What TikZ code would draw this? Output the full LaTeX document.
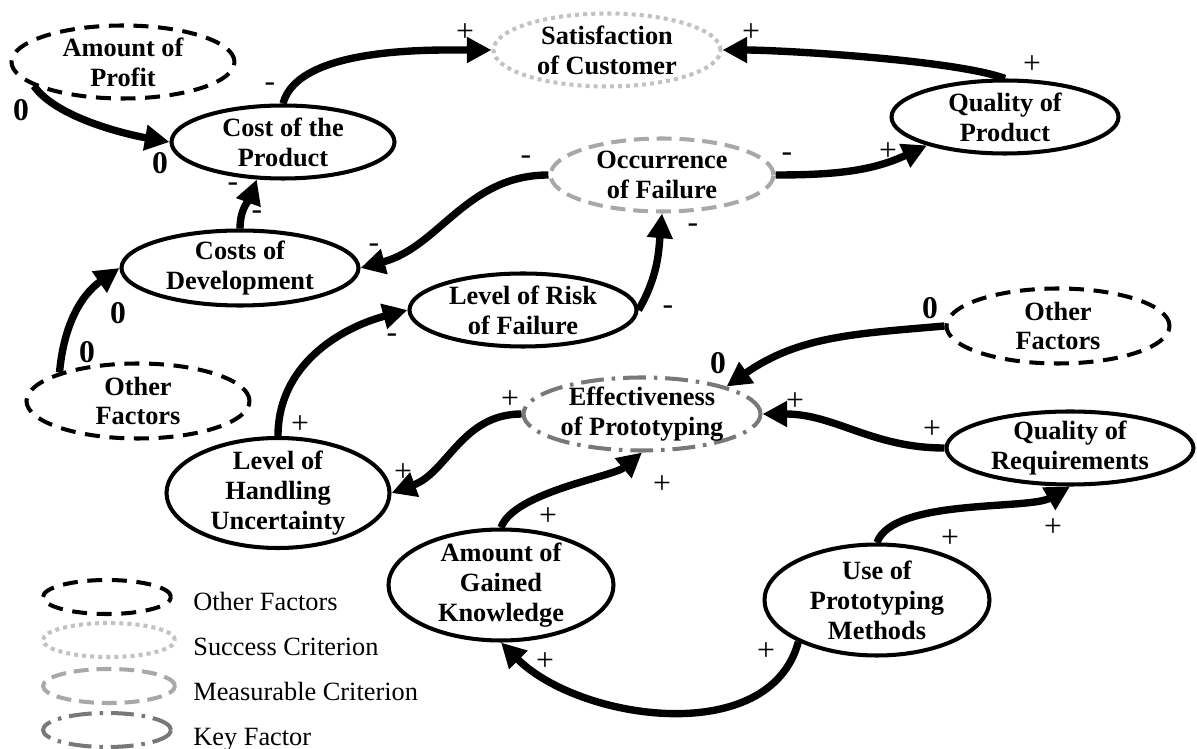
\documentclass[tikz,border=0pt]{standalone}
\usepackage{fontspec}
\setmainfont{Liberation Serif}
\usetikzlibrary{shapes.geometric,arrows.meta}
\definecolor{succgray}{gray}{0.76}
\definecolor{measgray}{gray}{0.66}
\definecolor{keygray}{gray}{0.47}
\begin{document}
\begin{tikzpicture}[x=0.02cm,y=-0.02cm,
	every node/.style={font=\fontsize{15}{17}\selectfont},
	wh/.style 2 args={minimum width=#1*0.02cm,minimum height=#2*0.02cm},
	ell/.style={ellipse,line width=2.3pt,inner sep=-2pt,align=center,font=\fontsize{15}{17}\selectfont\bfseries},
	factor/.style={ell,draw},
	other/.style={ell,draw,dash pattern=on 8.5pt off 5.5pt},
	success/.style={ell,draw=succgray,dash pattern=on 2.3pt off 2.3pt},
	measurable/.style={ell,draw=measgray,dash pattern=on 8.5pt off 4.5pt},
	keyfac/.style={ell,draw=keygray,dash pattern=on 13pt off 4.5pt on 2pt off 4.5pt},
	link/.style={line width=4.2pt,-{Triangle[length=14pt,width=14pt]}},
	sgn/.style={inner sep=0pt,font=\fontsize{18}{20}\selectfont},
	zero/.style={inner sep=0pt,font=\fontsize{18}{20}\selectfont\bfseries}]
	\useasboundingbox (0,0) rectangle (1197,749);

	\node[other,wh={223}{73}] (profit) at (123,62) {Amount of\\Profit};
	\node[factor,wh={223}{73}] (cop) at (283,142) {Cost of the\\Product};
	\node[success,wh={227}{73}] (sat) at (607,50) {Satisfaction\\of Customer};
	\node[factor,wh={227}{73}] (qop) at (1005,117) {Quality of\\Product};
	\node[measurable,wh={223}{73}] (occ) at (662,175) {Occurrence\\of Failure};
	\node[factor,wh={237}{75}] (cod) at (240,268) {Costs of\\Development};
	\node[factor,wh={227}{73}] (lrf) at (523,310) {Level of Risk\\of Failure};
	\node[other,wh={223}{75}] (of1) at (138,401) {Other\\Factors};
	\node[other,wh={223}{75}] (of2) at (1058,326) {Other\\Factors};
	\node[keyfac,wh={237}{73}] (eff) at (642,414) {Effectiveness\\of Prototyping};
	\node[factor,wh={247}{73}] (qor) at (1070,448) {Quality of\\Requirements};
	\node[factor,wh={223}{110}] (lhu) at (278,493) {Level of\\Handling\\Uncertainty};
	\node[factor,wh={225}{111}] (agk) at (501,585) {Amount of\\Gained\\Knowledge};
	\node[factor,wh={225}{111}] (upm) at (877,600) {Use of\\Prototyping\\Methods};

	\draw[link] (profit.195) to[out=-55,in=170,looseness=0.7] (cop.west);
	\draw[link] (cop.north) to[out=75,in=180,looseness=0.7] (sat.west);
	\draw[link] (qop.north) to[out=160,in=0,looseness=0.5] (sat.east);
	\draw[link] (occ.east) to[out=0,in=205] (qop.200);
	\draw[link] (occ.west) to[out=180,in=15] (cod.east);
	\draw[link] (cod.north) to[out=90,in=250] (cop.235);
	\draw[link] (of1.160) to[out=85,in=215] (cod.west);
	\draw[link] (lhu.north) to[out=90,in=195] (lrf.west);
	\draw[link] (lrf.east) to[out=60,in=265] (occ.south);
	\draw[link] (of2.west) to[out=185,in=35] (eff.18);
	\draw[link] (qor.west) to[out=180,in=0] (eff.east);
	\draw[link] (eff.west) to[out=180,in=20] (lhu.east);
	\draw[link] (agk.north) to[out=70,in=220,looseness=0.6] (eff.south);
	\draw[link] (upm.north) to[out=70,in=210,looseness=0.6] (qor.south);
	\draw[link] (upm.208) to[out=255,in=315,looseness=0.95] (agk.south);

	\foreach \px/\py/\s [count=\i] in {270/87/-,465/33/+,751/33/+,1032/65/+,787/157/-,888/152/+,
		526/160/-,374/248/-,233/187/-,257/215/-,392/338/-,300/425/+,668/310/-,693/228/-,
		795/402/+,932/430/+,510/400/+,403/473/+,662/485/+,548/517/+,545/662/+,766/652/+,
		950/539/+,1053/528/+}
		\node[sgn] (sg\i) at (\px,\py) {\s};
	\foreach \px/\py [count=\i] in {21/110,160/163,118/313,87/352,718/363,930/308}
		\node[zero] (z\i) at (\px,\py) {0};

	\node[other,wh={128}{34}] (lg1) at (107,597) {};
	\node[success,wh={132}{34}] (lg2) at (109,640) {};
	\node[measurable,wh={132}{34}] (lg3) at (109,686) {};
	\node[keyfac,wh={128}{34}] (lg4) at (107,730) {};
	\foreach \txt [count=\i] in {Other Factors,Success Criterion,Measurable Criterion,Key Factor}
		\node[anchor=base west,inner sep=0pt] (lt\i) at (193,565+45*\i) {\txt};
\end{tikzpicture}
\end{document}
